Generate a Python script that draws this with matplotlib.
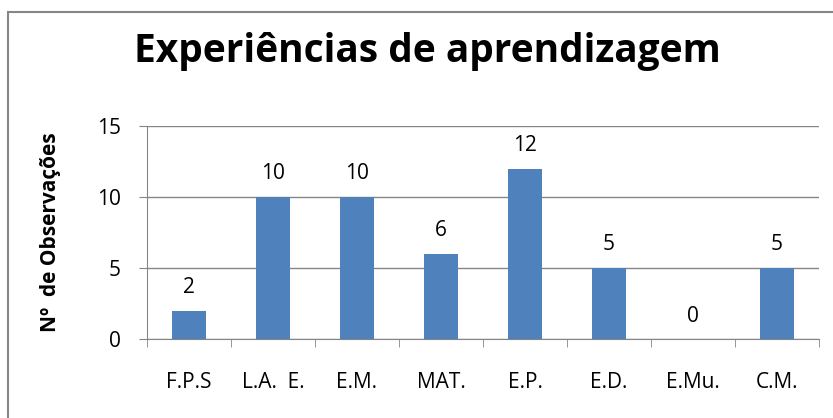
import matplotlib.pyplot as plt
from matplotlib.patches import Rectangle

categorias = ["F.P.S", "L.A.  E.", "E.M.", "MAT.", "E.P.", "E.D.", "E.Mu.", "C.M."]
observacoes = [2, 10, 10, 6, 12, 5, 0, 5]
ticks_y = [0, 5, 10, 15]

plt.rcParams['font.family'] = ['Open Sans', 'DejaVu Sans']
cinza = '#868686'
azul = '#4F81BD'

fig = plt.figure(figsize=(8.33, 4.18), dpi=100)
ax = fig.add_axes([147 / 833, 79 / 418, 672 / 833, 213 / 418])

# moldura do grafico (cortada a direita e em baixo)
fig.patches.append(Rectangle((8 / 833, -0.1), 1.2, (418 - 12) / 418 + 0.1,
                             transform=fig.transFigure, fill=False,
                             edgecolor=cinza, linewidth=1.5))

x = list(range(len(categorias)))
ax.bar(x, observacoes, width=0.4, color=azul, zorder=3)
for xi, v in zip(x, observacoes):
    ax.annotate(str(v), (xi, v), xytext=(0, 9), textcoords='offset points',
                ha='center', va='bottom', fontsize=15)

ax.set_xlim(-0.5, len(categorias) - 0.5)
ax.set_ylim(0, 15)
ax.set_yticks(ticks_y)
ax.set_yticklabels([str(t) for t in ticks_y], fontsize=15)
ax.yaxis.grid(True, color=cinza, linewidth=1, zorder=0)

ax.set_xticks(x)
ax.set_xticklabels(categorias, fontsize=15)
ax.set_xticks([i - 0.5 for i in range(len(categorias) + 1)], minor=True)
ax.tick_params(axis='x', which='major', length=0, pad=24)
ax.tick_params(axis='x', which='minor', length=6, color=cinza)
ax.tick_params(axis='y', length=6, color=cinza, pad=13)

for lado in ['top', 'right']:
    ax.spines[lado].set_visible(False)
for lado in ['left', 'bottom']:
    ax.spines[lado].set_color(cinza)

ax.set_ylabel("Nº  de Observações", fontsize=15, fontweight='bold')
ax.yaxis.set_label_coords(-86 / 672, 0.5)
fig.text(427 / 833, (418 - 62) / 418, "Experiências de aprendizagem",
         ha='center', va='baseline', fontsize=28, fontweight='bold')

fig.savefig('out.png', dpi=100)
